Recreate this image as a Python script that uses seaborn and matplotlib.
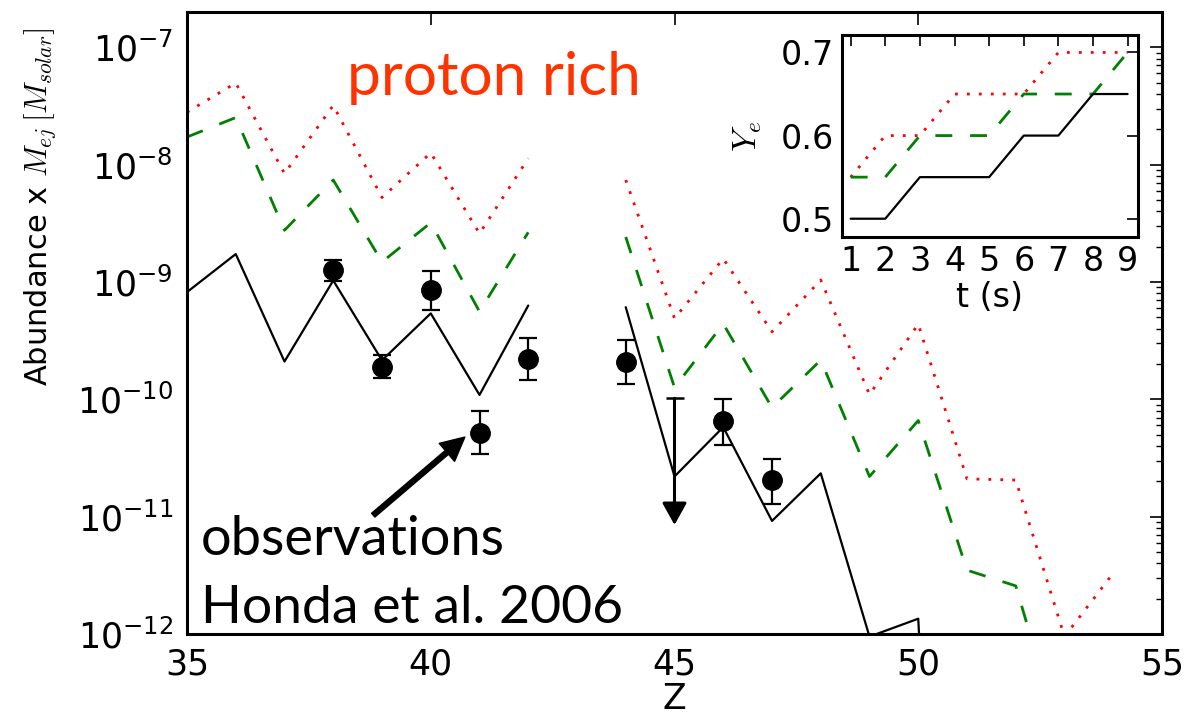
import numpy as np
import pandas as pd
import matplotlib
matplotlib.use("Agg")
import matplotlib.pyplot as plt
import seaborn as sns

# ---------------- data ----------------
# model curves (abundance x M_ej [M_solar]) vs proton number Z; two segments (gap at Z=43)
z_seg1 = [35, 36, 37, 38, 39, 40, 41, 42]
z_seg2 = [44, 45, 46, 47, 48, 49, 50, 51]
solid_seg1 = [8.2e-10, 1.73e-9, 2.1e-10, 1.03e-9, 2.15e-10, 5.4e-10, 1.09e-10, 6.3e-10]
solid_seg2 = [6.1e-10, 2.2e-11, 5.8e-11, 9.2e-12, 2.34e-11, 9.5e-13, 1.35e-12, 1e-20]

z_dash2 = [44, 45, 46, 47, 48, 49, 50, 51, 52, 53]
dashed_seg1 = [1.72e-8, 2.52e-8, 2.76e-9, 7.4e-9, 1.48e-9, 3.2e-9, 5.6e-10, 2.65e-9]
dashed_seg2 = [2.42e-9, 1.26e-10, 4.4e-10, 8.5e-11, 2.16e-10, 2.2e-11, 6.6e-11, 3.5e-12, 2.57e-12, 1e-13]

z_dot2 = [44, 45, 46, 47, 48, 49, 50, 51, 52, 53, 54]
dotted_seg1 = [2.8e-8, 4.97e-8, 8.4e-9, 3.2e-8, 5.25e-9, 1.26e-8, 2.59e-9, 1.13e-8]
dotted_seg2 = [7.4e-9, 4.9e-10, 1.58e-9, 3.76e-10, 1.04e-9, 1.1e-10, 4.37e-10, 2.1e-11, 2.05e-11, 9.5e-13, 3.3e-12]

# observations (Honda et al. 2006)
obs_z = [38, 39, 40, 41, 42, 44, 46, 47]
obs_val = [1.26e-9, 1.9e-10, 8.6e-10, 5.2e-11, 2.2e-10, 2.08e-10, 6.6e-11, 2.05e-11]
obs_hi = [1.53e-9, 2.37e-10, 1.24e-9, 7.95e-11, 3.3e-10, 3.2e-10, 1.0e-10, 3.08e-11]
obs_lo = [1.02e-9, 1.52e-10, 5.75e-10, 3.4e-11, 1.46e-10, 1.34e-10, 4.07e-11, 1.27e-11]

# upper limit at Z=45
lim_z = 45
lim_top = 1.02e-10
lim_tip = 8.5e-12

# inset: electron fraction Ye vs time
t_s = [1, 2, 3, 4, 5, 6, 7, 8, 9]
ye_solid = [0.50, 0.50, 0.55, 0.55, 0.55, 0.60, 0.60, 0.65, 0.65]
ye_dashed = [0.55, 0.55, 0.60, 0.60, 0.60, 0.65, 0.65, 0.65, 0.70]
ye_dotted = [0.55, 0.60, 0.60, 0.65, 0.65, 0.65, 0.70, 0.70, 0.70]

xticks_main = [35, 40, 45, 50, 55]
yticks_inset = [0.5, 0.6, 0.7]

# ---------------- style ----------------
sns.set_style("white")
plt.rcParams.update({
    "font.family": ["DejaVu Sans"],
    "mathtext.fontset": "cm",
    "lines.scale_dashes": False,
    "xtick.direction": "in",
    "ytick.direction": "in",
    "xtick.top": True,
    "ytick.right": True,
    "text.color": "black",
    "axes.labelcolor": "black",
    "xtick.color": "black",
    "ytick.color": "black",
    "axes.edgecolor": "black",
})

fig = plt.figure(figsize=(11.87, 7.2), dpi=100)
ax = fig.add_axes([187/1187, 1-634/720, (1162-187)/1187, (634-12)/720])
ax.set_yscale("log")

def seg_df(za, va, zb, vb):
    return pd.DataFrame({
        "Z": list(za) + list(zb),
        "val": list(va) + list(vb),
        "seg": [0]*len(za) + [1]*len(zb),
    })

df_solid = seg_df(z_seg1, solid_seg1, z_seg2, solid_seg2)
df_dash = seg_df(z_seg1, dashed_seg1, z_dash2, dashed_seg2)
df_dot = seg_df(z_seg1, dotted_seg1, z_dot2, dotted_seg2)

sns.lineplot(data=df_dot, x="Z", y="val", units="seg", estimator=None, ax=ax,
             color="red", linewidth=2.0, linestyle=(0, (2.0, 6.6)), legend=False)
sns.lineplot(data=df_dash, x="Z", y="val", units="seg", estimator=None, ax=ax,
             color="green", linewidth=2.0, linestyle=(0, (12.2, 12.8)), legend=False)
sns.lineplot(data=df_solid, x="Z", y="val", units="seg", estimator=None, ax=ax,
             color="black", linewidth=1.6, linestyle="-", legend=False)

obs_val_a = np.array(obs_val)
yerr = [obs_val_a - np.array(obs_lo), np.array(obs_hi) - obs_val_a]
ax.errorbar(obs_z, obs_val, yerr=yerr, fmt="o", color="black", ms=14,
            elinewidth=1.6, capsize=6.5, capthick=1.6, zorder=5)

# upper limit arrow
ax.annotate("", xy=(lim_z, lim_tip), xytext=(lim_z, lim_top),
            arrowprops=dict(arrowstyle="-|>,head_length=0.45,head_width=0.25",
                            mutation_scale=30, lw=2.2, color="black",
                            shrinkA=0, shrinkB=0), zorder=5)
ax.plot([lim_z], [lim_top], marker="_", ms=13, mew=1.8, color="black", zorder=5)

ax.set_xlim(35, 55)
ax.set_ylim(1e-12, 2e-7)
ax.set_xticks(xticks_main)
ax.tick_params(axis="both", which="major", labelsize=25, length=9, width=1.2, pad=10)
ax.tick_params(axis="y", which="minor", length=4.5, width=1.0)
for s in ax.spines.values():
    s.set_linewidth(2.2)
    s.set_color("black")
ax.set_ylabel("")
ax.set_xlabel("Z", fontsize=25, labelpad=0)

fig.text(40/1187, 1-207/720, r"Abundance x $M_{ej}\,[M_{solar}]$", rotation=90,
         ha="center", va="center", fontsize=22)

# texts
ax.text(0.164, 0.867, "proton rich", transform=ax.transAxes, color="#ff3300",
        fontsize=43.5, family="Lato", ha="left", va="baseline")
ax.text(0.0144, 0.127, "observations", transform=ax.transAxes, color="black",
        fontsize=39, family="Lato", ha="left", va="baseline")
ax.text(0.0144, 0.0177, "Honda et al. 2006", transform=ax.transAxes, color="black",
        fontsize=38.5, family="Lato", ha="left", va="baseline")
ax.annotate("", xy=(40.70, 4.77e-11), xytext=(38.82, 1.03e-11),
            arrowprops=dict(facecolor="black", edgecolor="black", width=3.6,
                            headwidth=17, headlength=17, shrink=0))

# ---------------- inset ----------------
axi = fig.add_axes([842/1187, 1-237/720, (1138-842)/1187, (237-35)/720])
df_in = pd.DataFrame({"t": t_s, "solid": ye_solid, "dashed": ye_dashed, "dotted": ye_dotted})
sns.lineplot(data=df_in, x="t", y="dotted", ax=axi, color="red", linewidth=2.0,
             linestyle=(0, (2.0, 6.6)), legend=False)
sns.lineplot(data=df_in, x="t", y="dashed", ax=axi, color="green", linewidth=2.0,
             linestyle=(0, (12.2, 12.8)), legend=False)
sns.lineplot(data=df_in, x="t", y="solid", ax=axi, color="black", linewidth=1.6,
             legend=False)
axi.set_xlim(0.75, 9.3)
axi.set_ylim(0.478, 0.721)
axi.set_xticks(t_s)
axi.set_yticks(yticks_inset)
axi.set_yticklabels([f"{v:.1f}" for v in yticks_inset])
axi.tick_params(axis="both", which="major", labelsize=24, length=8, width=1.2, pad=6)
for s in axi.spines.values():
    s.set_linewidth(2.2)
    s.set_color("black")
axi.set_xlabel("t (s)", fontsize=24, labelpad=2)
axi.set_ylabel(r"$Y_e$", fontsize=24, labelpad=12)

fig.savefig("out.png", dpi=100, facecolor="white")
